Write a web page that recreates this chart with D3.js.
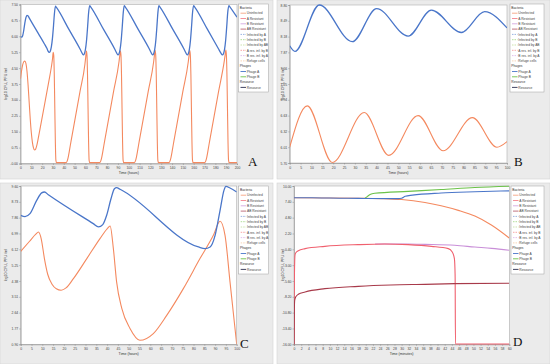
<!DOCTYPE html>
<html>
<head>
<meta charset="utf-8">
<script src="https://cdn.jsdelivr.net/npm/d3@7"></script>
<style>
  html, body { margin: 0; padding: 0; background: #fff; }
  svg { display: block; }
</style>
</head>
<body>
<div id="chart"></div>
<script>
// ---- data ([time, log10 value]) ----

// Panel A (hours)
const phageA_A = [[0,6.00],[1,5.96],[2,6.03],[3,6.28],[4,6.62],[5,6.88],[6,6.99],[7,6.96],[8,6.87],[16,6.17],[22,5.65],[24.5,5.42],[25.5,5.3],[26.5,5.24],[27.5,5.3],[28.5,5.5],[29.5,5.9],[30.5,6.5],[31.3,7.05],[32.3,7.42],[33.2,7.36],
  [45,6.3],[55,5.4],[56.5,5.25],[58,5.12],[59,5.18],[60,5.38],[61,5.8],[62,6.45],[62.9,7.1],[63.9,7.45],[64.8,7.39],
  [77,6.3],[87,5.4],[88.5,5.25],[90,5.12],[91,5.18],[92,5.38],[93,5.8],[94,6.45],[94.9,7.1],[95.8,7.45],[96.7,7.39],
  [109,6.3],[119,5.4],[120.5,5.25],[122,5.12],[123,5.18],[124,5.38],[125,5.8],[126,6.45],[126.9,7.1],[127.8,7.45],[128.7,7.39],
  [141,6.3],[151,5.4],[152.5,5.25],[154,5.12],[155,5.18],[156,5.38],[157,5.8],[158,6.45],[158.9,7.1],[159.9,7.45],[160.8,7.39],
  [173,6.3],[183,5.4],[185,5.22],[186.5,5.12],[187.5,5.18],[188.5,5.38],[189.5,5.8],[190.5,6.45],[191.4,7.1],[192.5,7.45],[193.4,7.39],[200,6.9]];
const uninf_A = [[0,4.0],[1,4.38],[2,4.65],[3,4.8],[4,4.83],[5,4.72],[6,4.35],[7,3.7],[8,2.9],[9,2.1],[10,1.45],[11,1.0],[12,0.74],[13,0.64],[14,0.68],[15,0.84],[16,1.08],[18,1.62],[22,2.72],[26,3.83],[28.5,4.55],[29.6,4.95],[30.2,5.25],[30.7,5.1],[31.2,4.2],[31.7,2.6],[32.2,1.0],[32.7,0.15],[33.3,0.04],[42,0.04],
  [43,0.1],[44,0.28],[45,0.55],[46,0.85],[47,1.14],[55,3.4],[59.5,4.68],[60.3,5.05],[60.9,5.3],[61.4,5.12],[61.9,4.2],[62.4,2.6],[62.9,1.0],[63.4,0.15],[64,0.04],[73,0.04],
  [74,0.1],[75,0.28],[76,0.55],[77,0.85],[78,1.14],[86,3.4],[91,4.8],[91.6,5.05],[92.3,5.32],[92.8,5.12],[93.3,4.2],[93.8,2.6],[94.3,1.0],[94.8,0.15],[95.4,0.04],[105,0.04],
  [106,0.1],[107,0.28],[108,0.55],[109,0.85],[110,1.14],[118,3.4],[123,4.8],[123.6,5.05],[124.4,5.33],[124.9,5.12],[125.4,4.2],[125.9,2.6],[126.4,1.0],[126.9,0.15],[127.5,0.04],[137,0.04],
  [138,0.1],[139,0.28],[140,0.55],[141,0.85],[142,1.14],[150,3.4],[155,4.8],[155.6,5.05],[156.4,5.33],[156.9,5.12],[157.4,4.2],[157.9,2.6],[158.4,1.0],[158.9,0.15],[159.5,0.04],[170,0.04],
  [171,0.1],[172,0.28],[173,0.55],[174,0.85],[175,1.14],[183,3.4],[188.3,4.85],[189,5.1],[189.7,5.35],[190.2,5.12],[190.7,4.2],[191.2,2.6],[191.7,1.0],[192.2,0.15],[192.8,0.04],[200,0.04]];

// Panel B (hours)
const phageA_B = [[0,8.00],[2.4,7.89],[13.6,8.80],[28.8,8.08],[40,8.73],[54.5,8.19],[65.2,8.70],[79,8.26],[89.7,8.67],[100,8.35]];
const uninf_B = [[0,6.01],[8.1,6.82],[19.6,5.71],[34.3,6.69],[45.6,5.85],[59.1,6.63],[70.6,5.94],[84.1,6.59],[95.4,6.01],[100,6.12]];

// Panel C (hours)
const phageA_C = [[0,7.99],[2,7.92],[4.3,8.08],[7.4,8.81],[9.7,9.22],[11,9.27],[12.8,9.12],[33.6,7.53],[36,7.35],[38,7.48],[39.8,7.99],[41.8,8.9],[43.4,9.45],[44.4,9.51],[46,9.42],
  [82.3,6.25],[85.3,6.16],[87.7,6.25],[90,6.89],[92.3,8.26],[94.1,9.36],[95,9.58],[96.9,9.49],[100,9.27]];
const uninf_C = [[0,6.01],[4,6.55],[7,6.95],[8.2,7.07],[9.5,6.7],[11,5.6],[12.5,4.75],[14.5,4.2],[16.5,3.95],[18.7,3.87],[21,4.0],[24.4,4.51],[30.6,5.61],[36.7,6.71],[40,7.25],[41.4,7.4],
  [42.9,6.16],[44.4,4.33],[46.8,2.87],[50.6,1.77],[55.2,1.12],[61.4,1.49],[67.6,2.49],[75.3,3.96],[83,5.61],[89.2,6.89],[92.3,7.66],[94.6,6.89],[96.9,4.33],[100,0.9]];

// Panel D (minutes)
const uninf_D = [[0,8.08],[10,8.04],[20,7.99],[25,7.9],[30,7.78],[36.5,7.3],[41,6.75],[45.8,6.0],[50.4,5.07],[55,3.6],[60,1.46]];
const aRes_D = [[0,-16],[0.1,-5.76],[0.28,-1.38],[0.46,-1.0],[1.2,-0.62],[3.1,-0.29],[8.6,0.09],[17.9,0.37],[25.3,0.48],[31.8,0.37],[38.3,0.09],[43,-0.29],[44.1,-0.84],[44.7,-1.93],[44.9,-4.67],[45,-15.95],[60,-15.95]];
const bRes_D = [[22.6,0.48],[31.8,0.48],[36.5,0.42],[44.8,0.26],[50.4,-0.02],[55.1,-0.24],[60,-0.56]];
const abRes_D = [[0,-16],[0.1,-10.14],[0.2,-8.77],[0.46,-8.23],[1.2,-7.79],[3.1,-7.41],[8.6,-6.86],[17.9,-6.48],[27,-6.26],[36.5,-6.15],[44.8,-6.04],[60,-5.98]];
const phageA_D = [[0,8.08],[5,8.06],[10,8.02],[15,7.98],[20,7.95],[29,7.93],[30,8.0],[31,8.3],[33,8.5],[41,8.85],[50.4,9.05],[60,9.2]];
const phageB_D = [[19.8,7.98],[20.5,8.3],[21.2,8.6],[22.5,8.8],[31.8,9.12],[41,9.42],[50.4,9.75],[60,9.97]];

// axis ticks
const xTicks200 = d3.range(0, 201, 10);
const xTicks100 = d3.range(0, 101, 5);
const xTicks60 = d3.range(0, 61, 2);
const yTicksA = ["-0.00","0.75","1.50","2.25","3.00","3.75","4.50","5.25","6.00","6.75","7.50"];
const yTicksB = ["5.70","6.01","6.32","6.63","6.94","7.25","7.56","7.87","8.18","8.49","8.80"];
const yTicksC = ["0.90","1.77","2.64","3.51","4.38","5.25","6.12","6.99","7.86","8.73","9.60"];
const yTicksD = ["-16.00","-13.40","-10.80","-8.20","-5.60","-3.00","-0.40","2.20","4.80","7.40","10.00"];

const legendLabels = [
  ["Bacteria", null],
  ["Uninfected", "uninf"], ["A Resistant", "aRes"], ["B Resistant", "bRes"], ["AB Resistant", "abRes"],
  ["Infected by A", "infA"], ["Infected by B", "infB"], ["Infected by AB", "infAB"],
  ["A res. inf. by B", "aResInfB"], ["B res. inf. by A", "bResInfA"], ["Refuge cells", "refuge"],
  ["Phages", null], ["Phage A", "phageA"], ["Phage B", "phageB"],
  ["Resource", null], ["Resource", "resource"]
];

// ---- styles ----
const styles = {
  uninf:    { color: "#f4895f", dash: null },
  aRes:     { color: "#f0606e", dash: null },
  bRes:     { color: "#c98fd8", dash: null },
  abRes:    { color: "#a83a4a", dash: null },
  infA:     { color: "#6d93d6", dash: "1.5,1" },
  infB:     { color: "#8fcf6a", dash: "1.5,1" },
  infAB:    { color: "#b8d98e", dash: "1.5,1" },
  aResInfB: { color: "#f38080", dash: "1.5,1" },
  bResInfA: { color: "#d9a6e6", dash: "1.5,1" },
  refuge:   { color: "#f7c49a", dash: "1.5,1" },
  phageA:   { color: "#4a76c9", dash: null },
  phageB:   { color: "#6cc24a", dash: null },
  resource: { color: "#2b2f4f", dash: null }
};
const fontSans = "'Liberation Sans', Arial, sans-serif";

const svg = d3.select("#chart").append("svg").attr("width", 550).attr("height", 364);

const defs = svg.append("defs");

function drawPanel(cfg, idx) {
  const g = svg.append("g");
  const b = cfg.box, p = cfg.plot;

  g.append("rect")
    .attr("x", b[0]).attr("y", b[1]).attr("width", b[2]).attr("height", b[3])
    .attr("fill", "#ebebeb").attr("stroke", "#d4d4d4").attr("stroke-width", 0.6);

  g.append("rect")
    .attr("x", p.x0).attr("y", p.y0).attr("width", p.x1 - p.x0).attr("height", p.y1 - p.y0)
    .attr("fill", "#fff").attr("stroke", "#b0b0b0").attr("stroke-width", 0.6);

  const x = d3.scaleLinear().domain(cfg.xDomain).range([p.x0, p.x1]);
  const y = d3.scaleLinear().domain(cfg.yDomain).range([p.y1, p.y0]);
  const yVals = cfg.yLabels.map(Number);

  const xAxis = g.append("g")
    .attr("transform", `translate(0,${p.y1})`)
    .call(d3.axisBottom(x).tickValues(cfg.xTicks).tickSize(1.5).tickPadding(1).tickFormat(d3.format("d")));
  const yAxis = g.append("g")
    .attr("transform", `translate(${p.x0},0)`)
    .call(d3.axisLeft(y).tickValues(yVals).tickSize(1.5).tickPadding(1).tickFormat((d, i) => cfg.yLabels[i]));

  [xAxis, yAxis].forEach(a => {
    a.attr("font-family", fontSans).attr("font-size", 3.4);
    a.selectAll("text").attr("fill", "#444");
    a.selectAll(".domain").attr("stroke", "#8a8a8a").attr("stroke-width", 0.6);
    a.selectAll(".tick line").attr("stroke", "#8a8a8a").attr("stroke-width", 0.5);
  });
  xAxis.selectAll("text").attr("dy", "0.9em");

  g.append("text")
    .attr("x", (p.x0 + p.x1) / 2).attr("y", p.y1 + 10.5)
    .attr("text-anchor", "middle").attr("font-family", fontSans).attr("font-size", 3.6).attr("fill", "#333")
    .text(cfg.xTitle);

  g.append("text")
    .attr("transform", `translate(${b[0] + 7},${(p.y0 + p.y1) / 2}) rotate(-90)`)
    .attr("text-anchor", "middle").attr("font-family", fontSans).attr("font-size", 3.6).attr("fill", "#333")
    .text("log10 CFU, PFU /ml");

  const clipId = "clip" + idx;
  defs.append("clipPath").attr("id", clipId).append("rect")
    .attr("x", p.x0).attr("y", p.y0 - 1).attr("width", p.x1 - p.x0).attr("height", p.y1 - p.y0 + 2);

  const line = d3.line().x(d => x(d[0])).y(d => y(d[1])).curve(d3.curveMonotoneX);
  const lines = g.append("g").attr("clip-path", `url(#${clipId})`);
  cfg.series.forEach(s => {
    lines.append("path")
      .datum(s.data)
      .attr("fill", "none")
      .attr("stroke", styles[s.key].color)
      .attr("stroke-width", s.width || 1.1)
      .attr("stroke-linejoin", "round")
      .attr("d", line);
  });

  // legend
  const L = cfg.legend;
  const lg = g.append("g");
  lg.append("rect")
    .attr("x", L.x).attr("y", L.y).attr("width", L.w).attr("height", L.h)
    .attr("fill", "#fff").attr("stroke", "#a0a0a0").attr("stroke-width", 0.5);
  legendLabels.forEach((item, i) => {
    const yy = L.y + 3.3 + i * 5.3 + (i > 0 ? 0.6 : 0);
    if (item[1] === null) {
      lg.append("text")
        .attr("x", L.x + 1.3).attr("y", yy + 1.2)
        .attr("font-family", fontSans).attr("font-size", 3.3).attr("fill", "#333")
        .text(item[0]);
    } else {
      const st = styles[item[1]];
      lg.append("line")
        .attr("x1", L.x + 2).attr("x2", L.x + 7.5).attr("y1", yy).attr("y2", yy)
        .attr("stroke", st.color).attr("stroke-width", item[1] === "phageA" || item[1] === "phageB" || item[1] === "resource" ? 0.9 : 0.7)
        .attr("stroke-dasharray", st.dash);
      lg.append("text")
        .attr("x", L.x + 8.3).attr("y", yy + 1.2)
        .attr("font-family", fontSans).attr("font-size", 3.3).attr("fill", "#444")
        .text(item[0]);
    }
  });

  g.append("text")
    .attr("x", cfg.letter[0]).attr("y", cfg.letter[1])
    .attr("font-family", "'Liberation Serif', 'Times New Roman', serif").attr("font-size", 13).attr("fill", "#111")
    .text(cfg.name);
}

const panels = [
  {
    name: "A", box: [0, 0, 273, 179],
    plot: { x0: 20.5, x1: 237, y0: 4.5, y1: 163.5 },
    xDomain: [0, 200], yDomain: [0, 7.5], xTicks: xTicks200, yLabels: yTicksA, xTitle: "Time (hours)",
    legend: { x: 238.5, y: 4, w: 30, h: 88 }, letter: [248, 166],
    series: [{ key: "uninf", data: uninf_A }, { key: "phageA", data: phageA_A, width: 1.3 }]
  },
  {
    name: "B", box: [277, 0, 273, 179],
    plot: { x0: 289.7, x1: 507, y0: 5, y1: 163 },
    xDomain: [0, 100], yDomain: [5.7, 8.8], xTicks: xTicks100, yLabels: yTicksB, xTitle: "Time (hours)",
    legend: { x: 510, y: 4, w: 34, h: 88 }, letter: [514, 166],
    series: [{ key: "uninf", data: uninf_B }, { key: "phageA", data: phageA_B, width: 1.3 }]
  },
  {
    name: "C", box: [0, 183, 273, 181],
    plot: { x0: 20.7, x1: 236.7, y0: 186, y1: 344.3 },
    xDomain: [0, 100], yDomain: [0.9, 9.6], xTicks: xTicks100, yLabels: yTicksC, xTitle: "Time (hours)",
    legend: { x: 238.7, y: 186, w: 30, h: 88 }, letter: [240, 348],
    series: [{ key: "uninf", data: uninf_C }, { key: "phageA", data: phageA_C, width: 1.3 }]
  },
  {
    name: "D", box: [277, 183, 273, 181],
    plot: { x0: 294, x1: 509.3, y0: 186, y1: 344.3 },
    xDomain: [0, 60], yDomain: [-16, 10], xTicks: xTicks60, yLabels: yTicksD, xTitle: "Time (minutes)",
    legend: { x: 511, y: 186, w: 33, h: 88 }, letter: [513, 346],
    series: [
      { key: "uninf", data: uninf_D },
      { key: "bRes", data: bRes_D },
      { key: "aRes", data: aRes_D },
      { key: "abRes", data: abRes_D },
      { key: "phageB", data: phageB_D },
      { key: "phageA", data: phageA_D }
    ]
  }
];

panels.forEach(drawPanel);
</script>
</body>
</html>
